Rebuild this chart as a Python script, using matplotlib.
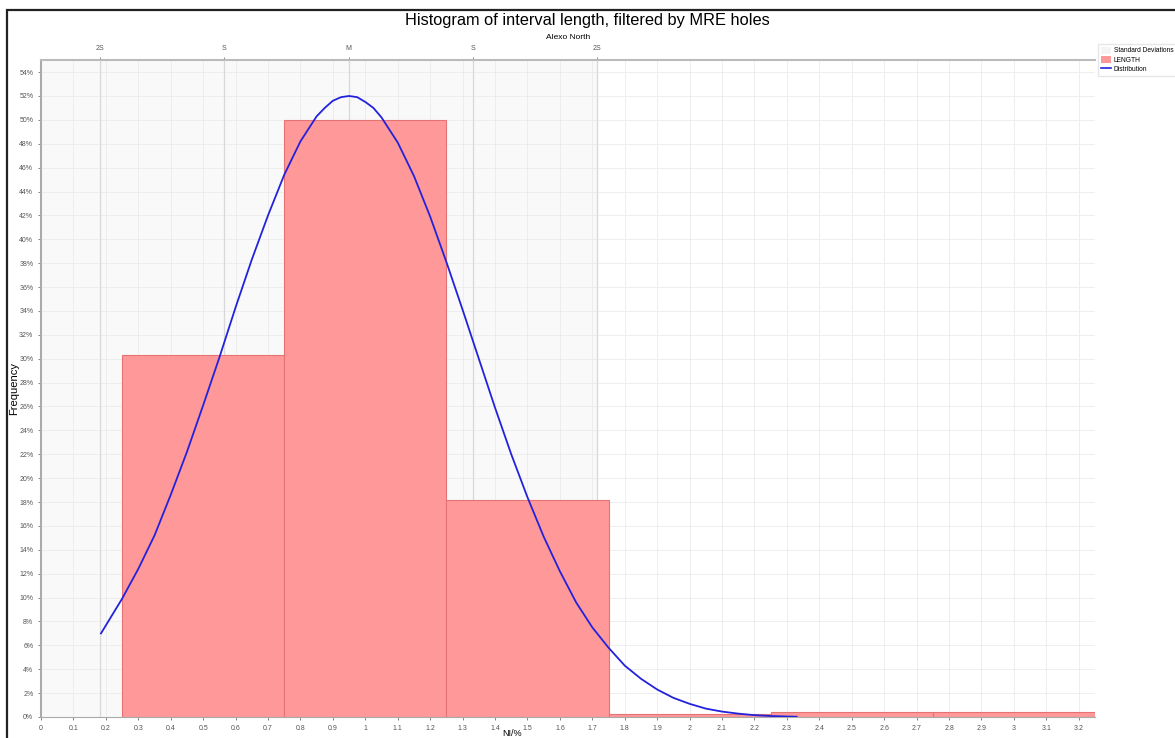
import numpy as np
import matplotlib.pyplot as plt
from matplotlib.patches import Patch, Rectangle
from matplotlib.lines import Line2D
from matplotlib.ticker import FuncFormatter, MultipleLocator

plt.rcParams['font.family'] = ['Liberation Sans', 'DejaVu Sans']

# histogram bins (NI/%) and frequency in %
bin_left = [0.25, 0.75, 1.25, 1.75, 2.25, 2.75]
bin_width = 0.5
freq = [30.3, 50.0, 18.2, 0.25, 0.45, 0.45]

# fitted distribution curve
curve_x = [0.185, 0.25, 0.30, 0.35, 0.40, 0.45, 0.50, 0.55, 0.60, 0.65, 0.70,
           0.75, 0.80, 0.85, 0.875, 0.90, 0.925, 0.95, 0.975, 1.00, 1.025, 1.05,
           1.10, 1.15, 1.20, 1.25,
           1.30, 1.35, 1.40, 1.45, 1.50, 1.55, 1.60, 1.65, 1.70, 1.75, 1.80,
           1.85, 1.90, 1.95, 2.00, 2.05, 2.10, 2.15, 2.20, 2.25, 2.30, 2.33]
curve_y = [7.0, 9.9, 12.4, 15.2, 18.6, 22.2, 26.1, 30.1, 34.3, 38.3, 42.0,
           45.4, 48.2, 50.3, 51.0, 51.6, 51.9, 52.0, 51.9, 51.5, 51.0, 50.2,
           48.1, 45.3, 41.9, 38.1,
           34.1, 30.0, 25.9, 22.0, 18.4, 15.1, 12.2, 9.6, 7.5, 5.8, 4.3,
           3.2, 2.3, 1.6, 1.1, 0.7, 0.45, 0.28, 0.15, 0.08, 0.04, 0.02]

# standard deviation markers on the top axis
sd_pos = [0.183, 0.565, 0.949, 1.331, 1.713]
sd_labels = ['2S', 'S', 'M', 'S', '2S']

fig = plt.figure(figsize=(11.75, 7.38), dpi=100)
ax = fig.add_axes([0.0349, 0.0285, 0.897, 0.890])

ax.axvspan(0, sd_pos[-1], color='#f9f9f9', zorder=0)
for p in sd_pos:
    ax.axvline(p, color='#d8d8d8', linewidth=0.9, zorder=1)
ax.bar(bin_left, freq, width=bin_width, align='edge', color='#ff9999',
       edgecolor='#e57373', linewidth=0.8, zorder=2)
ax.plot(curve_x, curve_y, color='#2222dd', linewidth=1.3, zorder=3)

ax.set_xlim(0, 3.25)
ax.set_ylim(0, 55)
ax.xaxis.set_major_locator(MultipleLocator(0.1))
ax.yaxis.set_major_locator(MultipleLocator(2))
ax.xaxis.set_major_formatter(FuncFormatter(lambda v, p: '%g' % round(v, 1)))
ax.yaxis.set_major_formatter(FuncFormatter(lambda v, p: '%d%%' % round(v)))
ax.tick_params(labelsize=5, colors='#555555', length=2, width=0.5)
ax.grid(True, color='#ebebeb', linewidth=0.6, zorder=1)
ax.set_axisbelow(True)
for s in ['top', 'right']:
    ax.spines[s].set_visible(False)
for s in ['left', 'bottom']:
    ax.spines[s].set_color('#aaaaaa')
ax.spines['left'].set_linewidth(1.5)
ax.set_xlabel('NI/%', fontsize=6.5)
ax.xaxis.set_label_coords(0.447, -0.019)
ax.set_ylabel('Frequency', fontsize=8)
ax.yaxis.set_label_coords(-0.021, 0.5)

top = ax.twiny()
top.set_xlim(ax.get_xlim())
top.set_xticks(sd_pos)
top.set_xticklabels(sd_labels)
top.tick_params(labelsize=5, colors='#555555', length=2, width=0.5, pad=4)
top.spines['top'].set_color('#bbbbbb')
top.spines['top'].set_linewidth(1.5)
for s in ['left', 'right', 'bottom']:
    top.spines[s].set_visible(False)
top.set_xlabel('Alexo North', fontsize=6, labelpad=4.5)

fig.text(0.5, 0.972, 'Histogram of interval length, filtered by MRE holes',
         ha='center', va='center', fontsize=11.8)

handles = [Patch(facecolor='#f4f4f4', edgecolor='none'),
           Patch(facecolor='#ff9999', edgecolor='none'),
           Line2D([0], [0], color='#2222dd', linewidth=1.2)]
fig.legend(handles, ['Standard Deviations', 'LENGTH', 'Distribution'],
           loc='upper left', bbox_to_anchor=(0.932, 0.945), fontsize=4.8,
           frameon=True, edgecolor='#e0e0e0', fancybox=False,
           handlelength=1.5, handleheight=1.3, borderpad=0.4,
           labelspacing=0.2, handletextpad=0.4)

# outer frame
fig.patches.append(Rectangle((0.006, -0.01), 1.0, 0.997, transform=fig.transFigure,
                             fill=False, edgecolor='#222222', linewidth=1.6))

fig.savefig('out.png', dpi=100)
